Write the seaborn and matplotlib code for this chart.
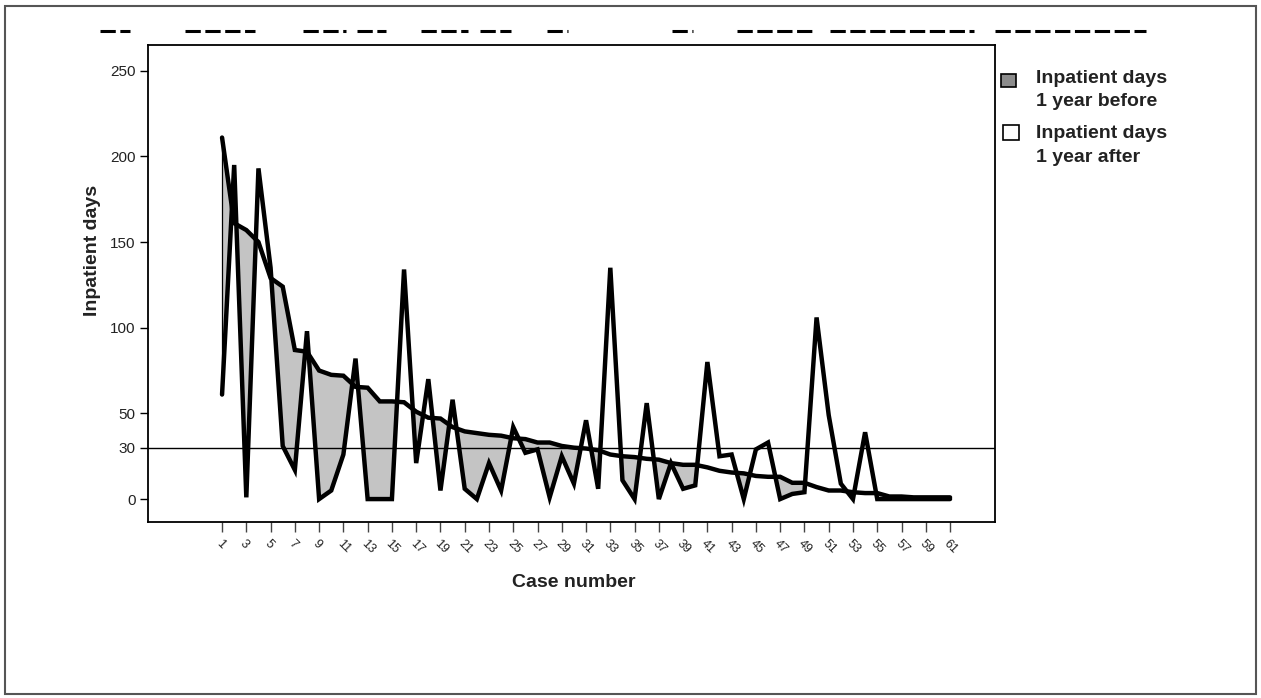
import numpy as np
import matplotlib
matplotlib.use("Agg")
import matplotlib.pyplot as plt
from matplotlib.patches import Rectangle
from matplotlib.lines import Line2D
import seaborn as sns

# case numbers and inpatient days
cases = list(range(1, 62))
days_before = [211, 161, 157, 150, 129, 124, 87, 86, 75, 72.5,
               72, 65.5, 65, 57, 57, 56.5, 51, 47.5, 47, 42,
               39.5, 38.5, 37.5, 37, 35.5, 35, 33, 33, 31, 30,
               29.5, 28.5, 26, 25, 24.5, 23.5, 23, 21, 20, 20,
               18.5, 16.5, 15.5, 15, 13.5, 13, 13, 9.5, 9.5, 7,
               5, 5, 4, 3.5, 3.5, 1.5, 1.5, 1, 1, 1, 1]
days_after = [61, 195, 1, 193, 135, 31, 17, 98, 0, 5,
              26, 82, 0, 0, 0, 134, 21, 70, 5, 58,
              6, 0, 21, 5, 42, 27, 29, 1, 25, 9,
              46, 6, 135, 11, 0, 56, 0, 21, 6, 8,
              80, 25, 26, 0, 29, 33, 0, 3, 4, 106,
              49, 9, 0, 39, 0, 0, 0, 0, 0, 0, 0]
y_ticks = [0, 30, 50, 100, 150, 200, 250]
x_ticks = list(range(1, 62, 2))
ref_level = 30

sns.set_style("white")
plt.rcParams['font.family'] = ['Liberation Sans', 'DejaVu Sans']

fig = plt.figure(figsize=(12.61, 6.98), dpi=100)
ax = fig.add_axes([0.1174, 0.2521, 0.6716, 0.6834])

b = np.array(days_before)
a = np.array(days_after)
# gray where the year before is above the year after
ax.fill_between(cases, a, b, where=b >= a, interpolate=True,
                color='#c4c4c4', lw=0, zorder=1)
ax.vlines(cases[0], days_after[0], days_before[0], color='black', lw=0.9, zorder=3)
ax.axhline(ref_level, color='black', lw=1, zorder=3)

sns.lineplot(x=cases, y=days_before, color='black', lw=3.2, ax=ax,
             solid_joinstyle='miter', zorder=4)
sns.lineplot(x=cases, y=days_after, color='black', lw=3.2, ax=ax,
             solid_joinstyle='miter', zorder=4)

ax.set_xlim(-5.1, 64.7)
ax.set_ylim(-13.4, 265)
ax.set_yticks(y_ticks)
ax.set_yticklabels([str(v) for v in y_ticks], fontsize=11, color='#222222')
ax.set_xticks(x_ticks)
ax.set_xticklabels([str(v) for v in x_ticks], fontsize=9, color='#222222',
                   rotation=-45, ha='left', va='top', rotation_mode='anchor')
ax.tick_params(axis='y', direction='out', length=6, width=1, color='black', left=True, pad=3)
ax.tick_params(axis='x', direction='out', length=7, width=1, color='#444444', bottom=True, pad=4)
for s in ax.spines.values():
    s.set_color('black')
    s.set_linewidth(1.3)

ax.set_ylabel("Inpatient days", fontsize=14, fontweight='bold', color='#222222')
ax.yaxis.set_label_coords(-0.056, 0.57)
ax.set_xlabel("Case number", fontsize=14, fontweight='bold', color='#222222')
ax.xaxis.set_label_coords(0.503, -0.108)

# legend on the right, drawn by hand so the box sits by the first line
W, H = 1261, 698
def fx(px):
    return px / W
def fy(py):
    return 1 - py / H

fig.patches.append(Rectangle((fx(1001), fy(87)), fx(15), 13 / H, transform=fig.transFigure,
                             facecolor='#8c8c8c', edgecolor='black', lw=1.2))
fig.text(fx(1036), fy(70), "Inpatient days\n1 year before", fontsize=14, fontweight='bold',
         color='#222222', va='top', ha='left', linespacing=1.45,
         transform=fig.transFigure)
fig.patches.append(Rectangle((fx(1003), fy(140)), fx(16), 15 / H, transform=fig.transFigure,
                             facecolor='white', edgecolor='black', lw=1.2))
fig.text(fx(1036), fy(125), "Inpatient days\n1 year after", fontsize=14, fontweight='bold',
         color='#222222', va='top', ha='left', linespacing=1.5,
         transform=fig.transFigure)

# clipped title remains at the top of the image
title_bits = [(100, 130), (185, 255), (303, 346), (357, 386), (421, 468), (480, 511),
              (547, 568), (672, 693), (737, 814), (830, 974), (995, 1146)]
for x0, x1 in title_bits:
    fig.add_artist(Line2D([fx(x0), fx(x1)], [fy(31), fy(31)], transform=fig.transFigure,
                          color='black', lw=2.2, linestyle=(0, (5, 1.5))))

# outer frame
fig.patches.append(Rectangle((0.004, 0.006), 0.992, 0.986, transform=fig.transFigure,
                             facecolor='none', edgecolor='#555555', lw=1.5))

fig.savefig("out.png", dpi=100)
